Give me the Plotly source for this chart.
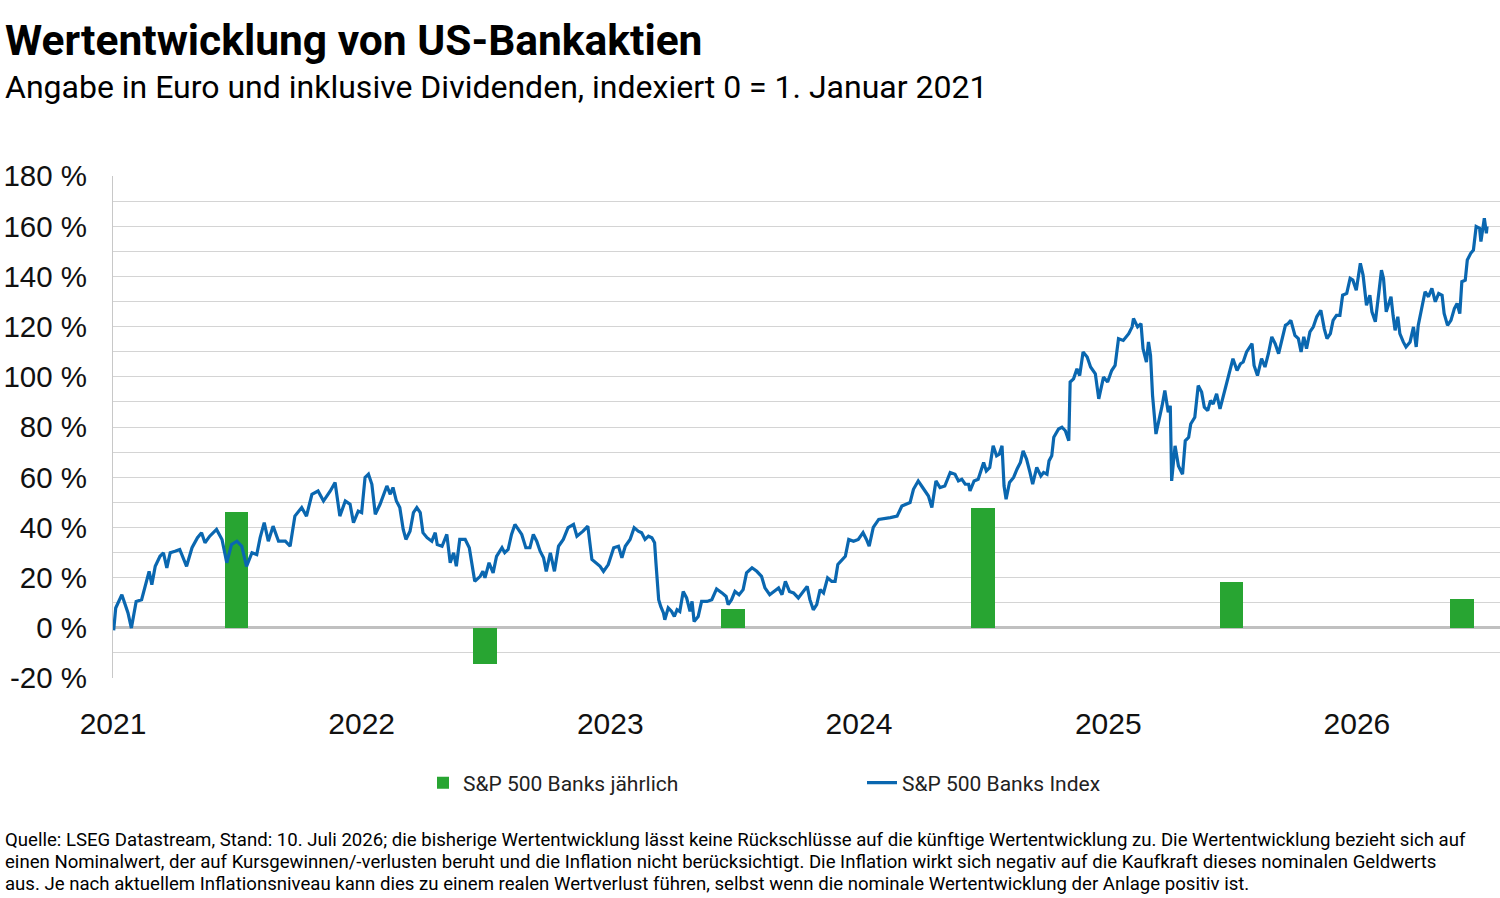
import pandas as pd
import plotly.graph_objects as go

# ---------------- data ----------------
start_date = "2021-01-01"

# S&P 500 Banks Index: trading-day offset from 1 Jan 2021 (days) and performance in %
index_days = [
    1, 4, 13, 18, 22, 27, 34, 42, 47, 53, 57, 62, 69, 74, 79, 84, 91, 98, 108, 116,
    124, 130, 135, 142, 152, 160, 167, 174, 182, 189, 196, 204, 211, 216, 222, 228, 235, 243, 253, 260,
    267, 277, 284, 292, 301, 309, 319, 326, 333, 341, 348, 353, 360, 365, 370, 375, 380, 385, 392, 397,
    402, 407, 411, 416, 421, 426, 430, 436, 441, 446, 451, 455, 461, 468, 473, 476, 483, 490, 495, 500,
    504, 509, 517, 523, 527, 531, 539, 543, 546, 552, 558, 563, 571, 575, 580, 585, 590, 595, 600, 606,
    612, 617, 622, 627, 632, 636, 642, 648, 654, 661, 668, 676, 681, 690, 697, 703, 709, 715, 720, 727,
    735, 742, 747, 752, 759, 765, 771, 776, 781, 786, 791, 795, 797, 801, 804, 808, 810, 815, 820, 824,
    828, 832, 837, 842, 847, 850, 853, 859, 864, 872, 879, 886, 894, 900, 903, 908, 913, 919, 925, 930,
    938, 945, 952, 957, 964, 970, 977, 982, 987, 993, 999, 1006, 1013, 1019, 1023, 1028, 1033, 1038, 1043, 1049,
    1055, 1060, 1064, 1070, 1075, 1080, 1087, 1094, 1101, 1106, 1110, 1116, 1124, 1141, 1151, 1158, 1165, 1170, 1175, 1182,
    1187, 1192, 1197, 1202, 1208, 1214, 1221, 1229, 1236, 1241, 1246, 1251, 1256, 1258, 1264, 1270, 1274, 1278, 1282, 1287,
    1292, 1297, 1301, 1305, 1308, 1311, 1316, 1322, 1327, 1332, 1336, 1341, 1346, 1350, 1356, 1362, 1366, 1371, 1374, 1378,
    1381, 1388, 1393, 1398, 1403, 1405, 1410, 1415, 1419, 1424, 1430, 1435, 1442, 1447, 1454, 1460, 1466, 1471, 1476, 1483,
    1491, 1496, 1498, 1504, 1509, 1512, 1517, 1520, 1523, 1526, 1531, 1535, 1540, 1544, 1549, 1552, 1554, 1559, 1564, 1570,
    1574, 1579, 1582, 1588, 1593, 1598, 1602, 1607, 1611, 1615, 1620, 1625, 1630, 1637, 1644, 1650, 1655, 1659, 1664, 1672,
    1675, 1680, 1686, 1691, 1696, 1701, 1706, 1711, 1716, 1721, 1725, 1729, 1735, 1740, 1744, 1748, 1752, 1757, 1762, 1767,
    1773, 1778, 1782, 1787, 1791, 1796, 1801, 1805, 1811, 1816, 1820, 1825, 1831, 1835, 1840, 1845, 1848, 1853, 1858, 1862,
    1865, 1869, 1872, 1876, 1879, 1882, 1886, 1889, 1894, 1898, 1904, 1909, 1913, 1916, 1921, 1926, 1931, 1936, 1941, 1946,
    1951, 1954, 1959, 1964, 1969, 1973, 1977, 1980, 1985, 1988, 1993, 1997, 2001, 2006, 2008, 2013, 2016, 2017,
]
index_values = [
    -1.0, 7.9, 13.2, 9.2, 5.9, -0.1, 10.5, 11.2, 16.5, 22.5, 17.2, 24.5, 28.5, 29.9, 23.9, 29.9, 30.5, 31.2, 24.5, 31.9,
    35.9, 37.9, 33.9, 36.5, 39.2, 35.2, 25.9, 33.2, 34.5, 32.5, 24.5, 29.9, 29.2, 35.9, 41.9, 34.5, 40.5, 34.5, 34.5, 32.5,
    44.5, 47.9, 44.5, 53.2, 54.5, 50.5, 54.5, 57.9, 44.5, 50.5, 49.2, 41.9, 46.5, 45.9, 59.9, 61.2, 57.2, 45.2, 49.2, 52.5,
    56.5, 53.2, 55.9, 50.5, 47.9, 39.2, 35.2, 38.5, 45.9, 47.9, 45.9, 37.9, 35.9, 34.5, 37.9, 33.2, 32.5, 37.2, 25.9, 29.9,
    24.5, 35.2, 35.2, 31.9, 24.5, 18.5, 20.5, 22.5, 19.9, 25.9, 21.9, 28.5, 31.9, 29.9, 31.2, 37.2, 41.2, 39.2, 37.2, 31.9,
    31.9, 37.2, 34.5, 30.5, 27.9, 22.5, 29.9, 22.5, 32.5, 35.2, 39.9, 41.2, 36.5, 38.5, 40.5, 27.2, 25.9, 24.5, 22.5, 25.2,
    31.9, 32.5, 27.9, 32.5, 35.2, 39.9, 38.5, 37.9, 35.2, 36.5, 35.9, 33.9, 25.9, 11.2, 8.5, 5.9, 3.2, 7.9, 6.5, 4.5,
    7.2, 6.5, 14.5, 11.9, 6.5, 10.5, 2.5, 4.5, 10.5, 10.5, 11.2, 15.5, 13.9, 12.5, 9.2, 11.2, 14.5, 13.2, 15.2, 21.9,
    23.9, 22.5, 20.5, 15.9, 13.2, 14.5, 15.9, 13.2, 18.5, 14.5, 13.9, 11.9, 14.5, 16.5, 11.2, 7.2, 9.2, 15.2, 13.9, 19.9,
    18.5, 18.5, 25.2, 27.2, 28.5, 35.2, 34.5, 35.2, 37.9, 35.2, 32.5, 40.0, 43.2, 43.9, 44.5, 48.5, 49.2, 49.9, 55.2, 58.5,
    56.5, 54.5, 52.5, 47.9, 58.5, 55.9, 56.5, 61.9, 61.2, 58.5, 59.2, 57.2, 57.2, 54.5, 58.5, 59.2, 62.5, 65.9, 62.5, 63.9,
    72.5, 68.5, 69.2, 72.5, 56.5, 51.2, 57.9, 59.9, 63.2, 65.9, 70.5, 67.2, 61.9, 57.2, 63.9, 60.5, 61.9, 61.2, 66.5, 68.5,
    75.9, 79.2, 79.9, 78.5, 74.5, 97.9, 99.2, 103.2, 100.5, 109.9, 107.9, 103.9, 101.2, 91.2, 99.9, 97.9, 102.5, 104.5, 115.2, 114.5,
    117.2, 119.9, 123.2, 119.9, 121.2, 111.2, 105.9, 113.9, 108.5, 92.5, 77.2, 81.9, 88.5, 94.5, 85.9, 88.5, 58.5, 72.5, 64.5, 61.2,
    74.5, 75.9, 81.2, 83.9, 96.5, 93.9, 87.9, 86.5, 90.5, 89.2, 93.2, 87.2, 92.5, 99.9, 107.2, 102.5, 105.2, 105.9, 109.9, 113.2,
    104.5, 100.5, 107.2, 103.9, 109.2, 115.9, 113.2, 109.2, 115.2, 120.5, 121.2, 122.5, 116.5, 115.2, 109.9, 115.9, 111.2, 117.9, 119.9, 123.9,
    126.5, 119.2, 115.2, 117.2, 122.5, 124.5, 124.5, 132.5, 133.2, 139.2, 138.5, 134.5, 145.2, 140.5, 128.5, 132.5, 125.9, 121.9, 133.2, 142.5,
    139.2, 125.9, 128.5, 131.9, 124.5, 118.5, 123.9, 117.2, 113.9, 111.9, 113.9, 119.9, 111.9, 120.5, 127.2, 133.9, 131.9, 135.2, 129.9, 133.2,
    132.5, 125.2, 120.5, 122.5, 127.2, 129.2, 125.2, 137.9, 138.5, 146.5, 149.2, 150.5, 159.9, 159.2, 153.9, 163.2, 157.2, 159.9,
]

# S&P 500 Banks annual performance (%)
annual_dates = ["2021-07-01", "2022-07-01", "2023-06-30", "2024-07-01", "2025-07-01", "2026-06-04"]
annual_values = [46.3, -14.4, 7.6, 47.9, 18.4, 11.6]

y_tick_values = list(range(-20, 181, 10))
y_tick_labels = [f"{v} %" if v % 20 == 0 else "" for v in y_tick_values]

title_text = "Wertentwicklung von US-Bankaktien"
subtitle_text = "Angabe in Euro und inklusive Dividenden, indexiert 0 = 1. Januar 2021"
bar_name = "S&P 500 Banks jährlich"
line_name = "S&P 500 Banks Index"
footnote_lines = [
    "Quelle: LSEG Datastream, Stand: 10. Juli 2026; die bisherige Wertentwicklung lässt keine Rückschlüsse auf die künftige Wertentwicklung zu. Die Wertentwicklung bezieht sich auf",
    "einen Nominalwert, der auf Kursgewinnen/-verlusten beruht und die Inflation nicht berücksichtigt. Die Inflation wirkt sich negativ auf die Kaufkraft dieses nominalen Geldwerts",
    "aus. Je nach aktuellem Inflationsniveau kann dies zu einem realen Wertverlust führen, selbst wenn die nominale Wertentwicklung der Anlage positiv ist.",
]

# ---------------- figure ----------------
GREEN = "#28A532"
BLUE = "#0A67B0"
GRID = "#D4D4D4"
TEXT_FONT = "Roboto, Arial, sans-serif"
TICK_FONT = "Liberation Sans, Arial, sans-serif"

index_dates = pd.Timestamp(start_date) + pd.to_timedelta(index_days, unit="D")
bar_width_ms = 34.5 * 24 * 3600 * 1000

fig = go.Figure()
fig.add_trace(go.Bar(
    x=pd.to_datetime(annual_dates), y=annual_values, name=bar_name,
    marker=dict(color=GREEN, line=dict(width=0)), width=bar_width_ms,
))
fig.add_trace(go.Scatter(
    x=index_dates, y=index_values, name=line_name, mode="lines",
    line=dict(color=BLUE, width=3.2),
))

PLOT_L, PLOT_W, PLOT_B, PLOT_H = 113, 1387, 678, 502


def px_x(x):
    return (x - PLOT_L) / PLOT_W


def px_y(y):
    return (PLOT_B - y) / PLOT_H


fig.update_layout(
    width=1500, height=898,
    margin=dict(l=113, r=0, t=176, b=220),
    paper_bgcolor="white", plot_bgcolor="white",
    showlegend=True,
    legend=dict(
        orientation="h", x=px_x(423), xanchor="left",
        y=px_y(783), yanchor="middle", entrywidth=394,
        font=dict(family=TEXT_FONT, size=21, color="#222"),
        bgcolor="rgba(0,0,0,0)",
    ),
    bargap=0,
)

fig.update_xaxes(
    type="date", range=["2021-01-01", "2026-07-30"],
    tick0="2021-01-01", dtick="M12", tickformat="%Y",
    showgrid=False, zeroline=False, showline=False,
    ticks="outside", ticklen=19, tickcolor="rgba(0,0,0,0)",
    tickfont=dict(family=TICK_FONT, size=30, color="#111"),
)
fig.update_yaxes(
    range=[-20, 180], tickmode="array", tickvals=y_tick_values, ticktext=y_tick_labels,
    showgrid=True, gridcolor=GRID, gridwidth=1,
    zeroline=True, zerolinecolor="#C0C0C0", zerolinewidth=3,
    showline=True, linecolor="#C8C8C8", linewidth=1,
    ticks="outside", ticklen=19, tickcolor="rgba(0,0,0,0)",
    tickfont=dict(family=TICK_FONT, size=29.5, color="#111"),
)

# title, subtitle and footnote
fig.add_annotation(
    text=f"<b>{title_text}</b>", xref="paper", yref="paper",
    x=px_x(3), y=px_y(40), xanchor="left", yanchor="middle",
    showarrow=False, font=dict(family=TEXT_FONT, size=42.5, color="#000"),
)
fig.add_annotation(
    text=subtitle_text, xref="paper", yref="paper",
    x=px_x(3), y=px_y(87), xanchor="left", yanchor="middle",
    showarrow=False, font=dict(family=TEXT_FONT, size=32, color="#000"),
)
for i, line in enumerate(footnote_lines):
    fig.add_annotation(
        text=line, xref="paper", yref="paper",
        x=px_x(3), y=px_y(840 + 22 * i), xanchor="left", yanchor="middle",
        align="left", showarrow=False, font=dict(family=TEXT_FONT, size=18.6, color="#000"),
    )

fig.write_html("out.html")
